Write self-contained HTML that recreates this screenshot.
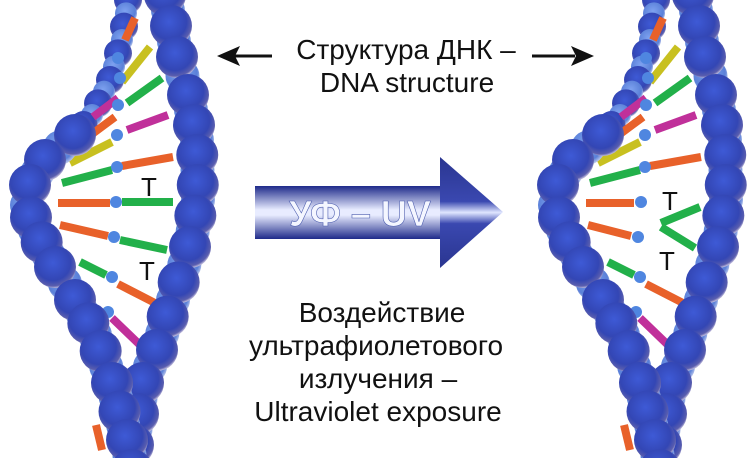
<!DOCTYPE html>
<html><head><meta charset="utf-8">
<style>
html,body{margin:0;padding:0;background:#fff;width:750px;height:458px;overflow:hidden;}
svg{display:block;}
text{font-family:"Liberation Sans",Arial,sans-serif;}
</style></head>
<body>
<svg id="s" width="750" height="458" viewBox="0 0 750 458" xmlns="http://www.w3.org/2000/svg" overflow="hidden">
<defs>
<radialGradient id="gd" cx="0.45" cy="0.4" r="0.6">
<stop offset="0" stop-color="#3e5ad6"/><stop offset="0.7" stop-color="#3346b4"/><stop offset="0.92" stop-color="#5a5eae"/><stop offset="1" stop-color="#b8b4d8"/>
</radialGradient>
<radialGradient id="gl" cx="0.45" cy="0.4" r="0.6">
<stop offset="0" stop-color="#7ea2f0"/><stop offset="0.8" stop-color="#5a80d8"/><stop offset="1" stop-color="#b8c4ea"/>
</radialGradient>
<linearGradient id="ag" x1="0" y1="0" x2="0" y2="1">
<stop offset="0" stop-color="#1e2a8a"/><stop offset="0.45" stop-color="#e8ecff"/><stop offset="0.55" stop-color="#e8ecff"/><stop offset="1" stop-color="#1e2a8a"/>
</linearGradient>
<linearGradient id="ah" x1="0" y1="0" x2="0" y2="1">
<stop offset="0" stop-color="#2a3590"/><stop offset="0.4" stop-color="#3a48b0"/><stop offset="0.5" stop-color="#e0e6ff"/><stop offset="0.6" stop-color="#3a48b0"/><stop offset="1" stop-color="#2a3590"/>
</linearGradient>
</defs>
<g id="L"></g>
<g id="R" transform="translate(528,0)"></g>

<text x="406" y="59" font-size="28" text-anchor="middle" fill="#111">Структура ДНК –</text>
<text x="407" y="92" font-size="28" text-anchor="middle" fill="#111">DNA structure</text>
<line x1="232" y1="56" x2="272" y2="56" stroke="#111" stroke-width="3"/>
<polygon points="217,56 240,46 235,56 240,66" fill="#111"/>
<line x1="532" y1="56" x2="575" y2="56" stroke="#111" stroke-width="3"/>
<polygon points="594,56 571,46 576,56 571,66" fill="#111"/>

<rect x="255" y="186" width="187" height="53" fill="url(#ag)"/>
<polygon points="440,157 503,212 440,268" fill="url(#ah)"/>
<text x="360" y="226" font-size="36" font-weight="bold" text-anchor="middle" fill="#f4f6ff" stroke="#5060b0" stroke-width="0.6">УФ – UV</text>

<g font-size="28" fill="#111" text-anchor="middle">
<text x="382" y="322">Воздействие</text>
<text x="376" y="355">ультрафиолетового</text>
<text x="378" y="388">излучения –</text>
<text x="378" y="421">Ultraviolet exposure</text>
</g>
</svg>
<script>
var NS="http://www.w3.org/2000/svg";
function el(p,t,a){var e=document.createElementNS(NS,t);for(var k in a)e.setAttribute(k,a[k]);p.appendChild(e);return e;}
var C={o:"#e8612a",g:"#22b04a",y:"#c8c020",m:"#c0309a"};
function samples(pts,step){var out=[];for(var i=0;i<pts.length-1;i++){var a=pts[i],b=pts[i+1];var d=Math.hypot(b[0]-a[0],b[1]-a[1]);var n=Math.max(1,Math.round(d/step));for(var j=0;j<n;j++){var t=j/n;out.push([a[0]+(b[0]-a[0])*t,a[1]+(b[1]-a[1])*t]);}}out.push(pts[pts.length-1]);return out;}
function helix(g,damaged){
  var back=[[128,0],[122,40],[110,80],[92,115],[75,135]];
  samples(back,13).forEach(function(p,i){el(g,"circle",{cx:p[0],cy:p[1],r:i%2?11:14,fill:i%2?"url(#gl)":"url(#gd)"});});
  var rungs=[
   [[125,40],[135,18],"o"],[[122,82],[150,47],"y"],[[127,103],[162,78],"g"],
   [[93,117],[118,98],"m"],[[127,130],[168,115],"m"],[[80,143],[115,117],"o"],
   [[70,163],[112,142],"y"],[[62,183],[112,170],"g"],[[122,166],[173,157],"o"]
  ];
  if(!damaged){
   rungs=rungs.concat([[[58,203],[110,203],"o"],[[122,202],[173,202],"g"],[[60,225],[108,236],"o"],[[120,240],[167,250],"g"]]);
  } else {
   rungs=rungs.concat([[[58,203],[106,203],"o"],[[60,225],[103,236],"o"],[[172,207],[133,223],"g"],[[167,248],[133,227],"g"]]);
  }
  rungs=rungs.concat([[[80,262],[106,275],"g"],[[118,284],[155,303],"o"],[[112,318],[140,345],"m"],[[96,425],[102,450],"o"]]);
  rungs.forEach(function(r){el(g,"line",{x1:r[0][0],y1:r[0][1],x2:r[1][0],y2:r[1][1],stroke:C[r[2]],"stroke-width":8});});
  var dots=[[118,58],[120,78],[118,105],[117,135],[117,167]];
  if(!damaged)dots=dots.concat([[116,202],[114,237]]);else dots=dots.concat([[113,202],[110,237]]);
  dots=dots.concat([[112,277],[108,312]]);
  dots.forEach(function(d){el(g,"circle",{cx:d[0],cy:d[1],r:6,fill:"#4f86e0"});});
  var right=[[165,-5],[177,57],[188,95],[197,140],[198,200],[190,247],[173,300],[157,350],[143,383],[133,445],[130,470]];
  var left=[[75,135],[45,160],[30,185],[27,205],[35,230],[55,267],[75,300],[95,335],[112,383],[127,440],[132,470]];
  [right,left].forEach(function(S){
    var s=samples(S,16);
    s.forEach(function(p,i){if(i%2)el(g,"circle",{cx:p[0],cy:p[1],r:17,fill:"url(#gl)"});});
    s.forEach(function(p,i){if(!(i%2))el(g,"circle",{cx:p[0],cy:p[1],r:21,fill:"url(#gd)"});});
  });
  if(!damaged){
    el(g,"text",{x:149,y:196,"font-size":26,"text-anchor":"middle",fill:"#111"}).textContent="T";
    el(g,"text",{x:147,y:280,"font-size":26,"text-anchor":"middle",fill:"#111"}).textContent="T";
  } else {
    el(g,"text",{x:142,y:210,"font-size":26,"text-anchor":"middle",fill:"#111"}).textContent="T";
    el(g,"text",{x:139,y:270,"font-size":26,"text-anchor":"middle",fill:"#111"}).textContent="T";
  }
}
helix(document.getElementById("L"),false);
helix(document.getElementById("R"),true);
</script>
</body></html>
